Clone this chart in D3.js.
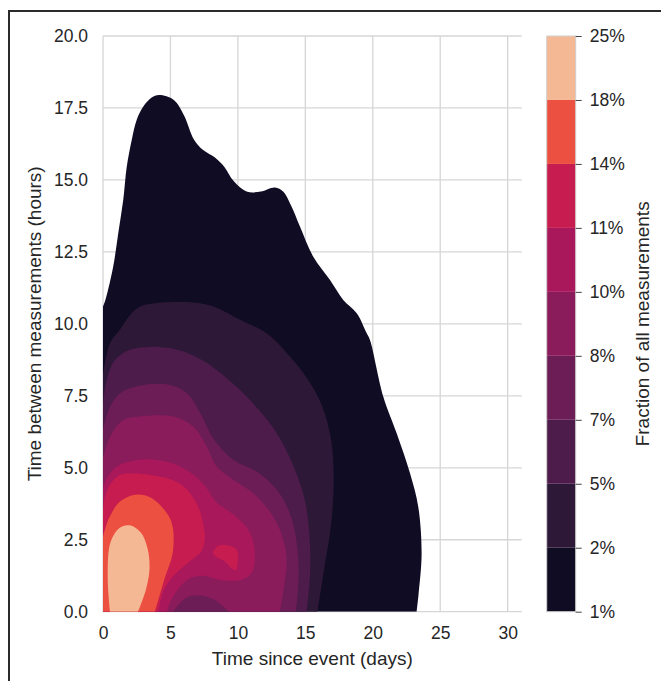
<!DOCTYPE html>
<html>
<head>
<meta charset="utf-8">
<script src="https://cdn.jsdelivr.net/npm/d3@7"></script>
<style>
  body { margin: 0; background: #fff; }
  text { font-family: "Liberation Sans", Arial, sans-serif; fill: #262626; }
</style>
</head>
<body>
<div id="chart"></div>
<script>
// Colour bar levels (fraction of all measurements)
var levelLabels = ["1%", "2%", "5%", "7%", "8%", "10%", "11%", "14%", "18%", "25%"];
var levelColors = ["#100c24", "#2d1838", "#4e1c4b", "#6d1d56", "#8a1c5b",
                   "#a8185b", "#c71c4f", "#ec5040", "#f5b895"];

var xTicks = [0, 5, 10, 15, 20, 25, 30];
var yTicks = [0, 2.5, 5, 7.5, 10, 12.5, 15, 17.5, 20];

// contour outlines, [days, hours]
var contour1 = [[0,10.6],[0.22,10.9],[0.76,12.0],[1.13,13.15],[1.5,14.3],[1.76,15.46],[2.13,16.39],[2.5,17.09],
  [2.99,17.55],[3.61,17.86],[4.15,17.95],[5.25,17.78],[6.0,17.25],[6.75,16.4],[7.4,16.05],[8.3,15.78],
  [9.0,15.45],[9.7,14.95],[10.7,14.59],[11.7,14.6],[12.75,14.74],[13.35,14.6],[13.95,14.1],[14.6,13.38],
  [15.59,12.33],[16.83,11.52],[17.81,10.83],[18.81,10.37],[19.55,9.67],[19.79,9.44],[20.78,7.47],
  [21.77,6.2],[22.76,4.81],[23.37,3.65],[23.62,2.03],[23.4,0.64],[23.25,0]];
var contour2 = [[0,8.2],[0.25,8.9],[0.6,9.4],[1.26,9.8],[2.0,10.3],[2.74,10.6],[3.73,10.71],[6.69,10.74],
  [8.18,10.6],[10.16,10.14],[12.13,9.67],[13.6,9.0],[15.0,8.2],[16.2,7.2],[16.9,6.0],[17.1,4.6],
  [16.9,3.0],[16.4,1.5],[15.9,0]];
var contour3 = [[0,7.2],[0.3,8.1],[0.9,8.75],[2.0,9.1],[3.5,9.2],[5.5,9.1],[7.3,8.75],[9.2,8.1],[11.0,7.3],
  [12.6,6.4],[13.9,5.3],[14.9,4.0],[15.3,2.7],[15.35,1.3],[15.1,0]];
var contour4 = [[0,6.3],[0.5,7.1],[1.3,7.6],[2.7,7.85],[4.7,7.9],[6.2,7.6],[7.2,6.9],[8.2,6.0],[9.6,5.3],
  [11.6,4.8],[13.1,4.1],[14.0,3.2],[14.4,2.2],[14.5,1.2],[14.3,0]];
var contour5 = [[0,5.3],[0.52,6.08],[1.51,6.66],[2.74,6.78],[5.21,6.78],[6.69,6.43],[7.69,5.73],[8.43,5.04],
  [9.66,4.58],[11.14,4.11],[12.62,3.3],[13.37,2.49],[13.61,1.8],[13.49,1.1],[13.12,0]];
var hole5 = [[9.3,0],[8.5,0.35],[7.4,0.55],[6.5,0.55],[5.8,0.35],[5.2,0]];
var contour6 = [[0,4.3],[0.3,4.65],[0.9,5.0],[1.8,5.2],[3.4,5.3],[5.2,5.15],[6.6,4.8],[7.6,4.35],[8.4,3.8],
  [9.6,3.4],[10.6,2.95],[11.1,2.5],[11.25,1.8],[10.95,1.3],[10.2,1.1],[8.7,1.1],[7.45,1.25],[6.4,1.15],
  [5.6,0.8],[5.0,0.35],[4.75,0]];
var contour7 = [[0,3.5],[0.15,4.0],[0.5,4.4],[1.25,4.75],[2.25,4.8],[3.5,4.75],[5.0,4.6],[6.0,4.35],[7.0,3.7],
  [7.45,3.0],[7.55,2.5],[7.3,2.1],[6.45,1.75],[5.35,1.3],[4.55,0.8],[4.1,0]];
var island7 = [[8.15,2.05],[8.6,2.3],[9.3,2.3],[9.9,2.15],[10.0,1.8],[9.85,1.45],[9.55,1.5],[9.0,1.75],[8.4,1.9]];
var contour8 = [[0,2.6],[0.2,2.95],[0.5,3.3],[1.2,3.8],[2.25,4.05],[3.0,4.05],[3.9,3.85],[4.9,3.3],[5.2,2.85],
  [5.15,2.0],[4.6,1.2],[3.85,0]];
var contour9 = [[0.52,0],[0.35,1.2],[0.55,2.4],[1.2,2.9],[1.95,3.0],[2.8,2.75],[3.3,2.2],[3.45,1.5],[3.2,0.8],[2.6,0]];

var W = 661, H = 681;
var plot = {left: 103, right: 521.7, top: 36, bottom: 611.7};
var cbar = {left: 546.7, right: 575.7};

var svg = d3.select("#chart").append("svg")
  .attr("width", W)
  .attr("height", H);

// outer frame (cut off at the right and bottom of the picture)
svg.append("rect")
  .attr("x", 9).attr("y", 11)
  .attr("width", 800).attr("height", 800)
  .attr("fill", "none")
  .attr("stroke", "#2b2b2b")
  .attr("stroke-width", 2);

var x = d3.scaleLinear().domain([0, 31.04]).range([plot.left, plot.right]);
var y = d3.scaleLinear().domain([0, 20]).range([plot.bottom, plot.top]);

// grid
var grid = svg.append("g").attr("stroke", "#d6d6d6").attr("stroke-width", 1.3);
grid.selectAll(".vx").data(xTicks).enter().append("line")
  .attr("x1", function(d) { return x(d); }).attr("x2", function(d) { return x(d); })
  .attr("y1", plot.top).attr("y2", plot.bottom);
grid.selectAll(".hy").data(yTicks).enter().append("line")
  .attr("x1", plot.left).attr("x2", plot.right)
  .attr("y1", function(d) { return y(d); }).attr("y2", function(d) { return y(d); });

// contours
svg.append("clipPath").attr("id", "clip")
  .append("rect")
  .attr("x", plot.left).attr("y", plot.top)
  .attr("width", plot.right - plot.left).attr("height", plot.bottom - plot.top);

var curve = d3.line()
  .x(function(d) { return x(d[0]); })
  .y(function(d) { return y(d[1]); })
  .curve(d3.curveCatmullRom.alpha(0.5));
var closedCurve = d3.line()
  .x(function(d) { return x(d[0]); })
  .y(function(d) { return y(d[1]); })
  .curve(d3.curveCatmullRomClosed.alpha(0.5));

function shape(pts, hole) {
  var p = curve(pts);
  if (hole) p += "L" + curve(hole).slice(1);
  return p + "L" + x(0) + "," + y(0) + "Z";
}

var shapes = [
  {level: 0, d: shape(contour1)},
  {level: 1, d: shape(contour2)},
  {level: 2, d: shape(contour3)},
  {level: 3, d: shape(contour4)},
  {level: 4, d: shape(contour5, hole5)},
  {level: 5, d: shape(contour6)},
  {level: 6, d: shape(contour7)},
  {level: 6, d: closedCurve(island7)},
  {level: 7, d: shape(contour8)},
  {level: 8, d: curve(contour9) + "Z"}
];

svg.append("g").attr("clip-path", "url(#clip)")
  .selectAll("path").data(shapes).enter().append("path")
  .attr("d", function(d) { return d.d; })
  .attr("fill", function(d) { return levelColors[d.level]; });

// axes
var xAxis = svg.append("g")
  .attr("transform", "translate(0," + plot.bottom + ")")
  .call(d3.axisBottom(x).tickValues(xTicks).tickSize(0).tickPadding(15).tickFormat(d3.format("d")));
var yAxis = svg.append("g")
  .attr("transform", "translate(" + plot.left + ",0)")
  .call(d3.axisLeft(y).tickValues(yTicks).tickSize(0).tickPadding(15).tickFormat(d3.format(".1f")));
[xAxis, yAxis].forEach(function(a) {
  a.select(".domain").remove();
  a.selectAll("text").attr("font-size", "17.5px").attr("fill", "#262626")
    .style("font-family", "'Liberation Sans', Arial, sans-serif");
});

svg.append("text")
  .attr("x", (plot.left + plot.right) / 2).attr("y", 664.5)
  .attr("text-anchor", "middle")
  .attr("font-size", "19px")
  .text("Time since event (days)");

svg.append("text")
  .attr("transform", "translate(41," + (plot.top + plot.bottom) / 2 + ") rotate(-90)")
  .attr("text-anchor", "middle")
  .attr("font-size", "19px")
  .text("Time between measurements (hours)");

// colour bar
var cb = d3.scaleLinear().domain([0, levelColors.length]).range([plot.bottom, plot.top]);

svg.append("g").selectAll("rect").data(levelColors).enter().append("rect")
  .attr("x", cbar.left)
  .attr("width", cbar.right - cbar.left)
  .attr("y", function(d, i) { return cb(i + 1); })
  .attr("height", function(d, i) { return cb(i) - cb(i + 1); })
  .attr("fill", function(d) { return d; });

svg.append("rect")
  .attr("x", cbar.left).attr("y", plot.top)
  .attr("width", cbar.right - cbar.left).attr("height", plot.bottom - plot.top)
  .attr("fill", "none").attr("stroke", "#cfcfcf").attr("stroke-width", 1);

var cbAxis = svg.append("g")
  .attr("transform", "translate(" + cbar.right + ",0)")
  .call(d3.axisRight(cb).tickValues(d3.range(levelLabels.length)).tickSize(6).tickPadding(8)
    .tickFormat(function(i) { return levelLabels[i]; }));
cbAxis.select(".domain").remove();
cbAxis.selectAll("line").attr("stroke", "#444");
cbAxis.selectAll("text").attr("font-size", "17.5px").attr("fill", "#262626")
  .style("font-family", "'Liberation Sans', Arial, sans-serif");

svg.append("text")
  .attr("transform", "translate(649," + (plot.top + plot.bottom) / 2 + ") rotate(-90)")
  .attr("text-anchor", "middle")
  .attr("font-size", "19px")
  .text("Fraction of all measurements");
</script>
</body>
</html>
